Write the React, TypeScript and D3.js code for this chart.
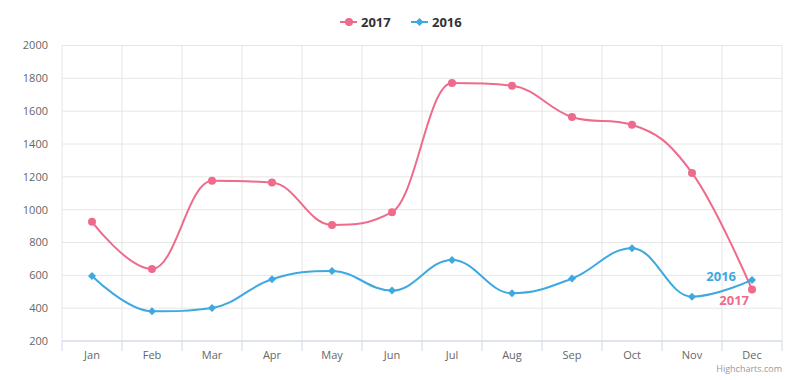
import React from "react";
import * as d3 from "d3";

const months = ["Jan", "Feb", "Mar", "Apr", "May", "Jun", "Jul", "Aug", "Sep", "Oct", "Nov", "Dec"];
const values2017 = [926, 639, 1176, 1165, 907, 985, 1771, 1755, 1564, 1517, 1224, 513];
const values2016 = [596, 381, 401, 576, 627, 507, 694, 491, 580, 765, 470, 572];
const yTicks = [200, 400, 600, 800, 1000, 1200, 1400, 1600, 1800, 2000];

const C2017 = "#ee6b8b";
const C2016 = "#3ea8e0";

function splinePath(pts: [number, number][]): string {
  const smoothing = 1.5;
  const denom = smoothing + 1;
  let d = "";
  let lastRC: [number, number] | null = null;
  pts.forEach((p, i) => {
    const [x, y] = p;
    if (i === 0) {
      d += `M${x},${y}`;
      lastRC = [x, y];
      return;
    }
    const last = pts[i - 1];
    const next = pts[i + 1];
    let lcx = x, lcy = y, rcx = x, rcy = y;
    if (next) {
      lcx = (smoothing * x + last[0]) / denom;
      lcy = (smoothing * y + last[1]) / denom;
      rcx = (smoothing * x + next[0]) / denom;
      rcy = (smoothing * y + next[1]) / denom;
      if (rcx !== lcx) {
        const corr = ((rcy - lcy) * (rcx - x)) / (rcx - lcx) + y - rcy;
        lcy += corr;
        rcy += corr;
        if (lcy > last[1] && lcy > y) {
          lcy = Math.max(last[1], y);
          rcy = 2 * y - lcy;
        } else if (lcy < last[1] && lcy < y) {
          lcy = Math.min(last[1], y);
          rcy = 2 * y - lcy;
        }
        if (rcy > next[1] && rcy > y) {
          rcy = Math.max(next[1], y);
          lcy = 2 * y - rcy;
        } else if (rcy < next[1] && rcy < y) {
          rcy = Math.min(next[1], y);
          lcy = 2 * y - rcy;
        }
      }
    }
    const lr = lastRC as [number, number];
    d += `C${lr[0]},${lr[1]} ${lcx},${lcy} ${x},${y}`;
    lastRC = [rcx, rcy];
  });
  return d;
}

export default function App() {
  const W = 800, H = 380;
  const left = 62, right = 782, top = 45.5, bottom = 341;
  const x = d3.scaleBand<string>().domain(months).range([left, right]);
  const y = d3.scaleLinear().domain([200, 2000]).range([bottom, top]);
  const cx = (m: string) => (x(m) as number) + x.bandwidth() / 2;
  const pts17: [number, number][] = months.map((m, i) => [cx(m), y(values2017[i])]);
  const pts16: [number, number][] = months.map((m, i) => [cx(m), y(values2016[i])]);
  const font = "'Open Sans', 'Lucida Grande', 'DejaVu Sans', sans-serif";
  const boundaries = months.map((m) => x(m) as number).concat([right]);
  const diamond = (px: number, py: number, r: number) =>
    `M${px},${py - r}L${px + r},${py}L${px},${py + r}L${px - r},${py}Z`;

  return (
    <svg width={W} height={H} style={{ position: "absolute", left: 0, top: 0, background: "#fff" }} fontFamily={font}>
      {yTicks.map((t) => (
        <line key={"g" + t} x1={left} x2={right} y1={y(t)} y2={y(t)} stroke="#e6e6e6" strokeWidth={1} />
      ))}
      {boundaries.map((b, i) => (
        <line key={"v" + i} x1={b} x2={b} y1={top} y2={bottom} stroke="#e6e6e6" strokeWidth={1} />
      ))}
      <line x1={left} x2={right} y1={bottom} y2={bottom} stroke="#ccd6eb" strokeWidth={1} />
      {boundaries.map((b, i) => (
        <line key={"t" + i} x1={b} x2={b} y1={bottom} y2={bottom + 10} stroke="#ccd6eb" strokeWidth={1} />
      ))}
      {yTicks.map((t) => (
        <text key={"yl" + t} x={48} y={y(t)} dy="0.35em" textAnchor="end" fontSize={11} fill="#666">
          {t}
        </text>
      ))}
      {months.map((m) => (
        <text key={"xl" + m} x={cx(m)} y={359} textAnchor="middle" fontSize={11} fill="#666">
          {m}
        </text>
      ))}
      <path d={splinePath(pts17)} fill="none" stroke={C2017} strokeWidth={2} />
      <path d={splinePath(pts16)} fill="none" stroke={C2016} strokeWidth={2} />
      {pts17.map((p, i) => (
        <circle key={"c" + i} cx={p[0]} cy={p[1]} r={4} fill={C2017} />
      ))}
      {pts16.map((p, i) => (
        <path key={"d" + i} d={diamond(p[0], p[1], 4)} fill={C2016} />
      ))}
      <text x={736} y={276} dy="0.35em" textAnchor="end" fontSize={13} fontWeight="bold" fill={C2016}>
        2016
      </text>
      <text x={749} y={300.5} dy="0.35em" textAnchor="end" fontSize={13} fontWeight="bold" fill={C2017}>
        2017
      </text>
      {/* legend */}
      <line x1={340} x2={357} y1={22} y2={22} stroke={C2017} strokeWidth={2} />
      <circle cx={349} cy={22} r={4} fill={C2017} />
      <text x={361} y={22} dy="0.35em" fontSize={13} fontWeight="bold" fill="#333">2017</text>
      <line x1={411} x2={428} y1={22} y2={22} stroke={C2016} strokeWidth={2} />
      <path d={diamond(419.5, 22, 4)} fill={C2016} />
      <text x={432} y={22} dy="0.35em" fontSize={13} fontWeight="bold" fill="#333">2016</text>
      <text x={782} y={372} textAnchor="end" fontSize={9} fill="#999">Highcharts.com</text>
    </svg>
  );
}
